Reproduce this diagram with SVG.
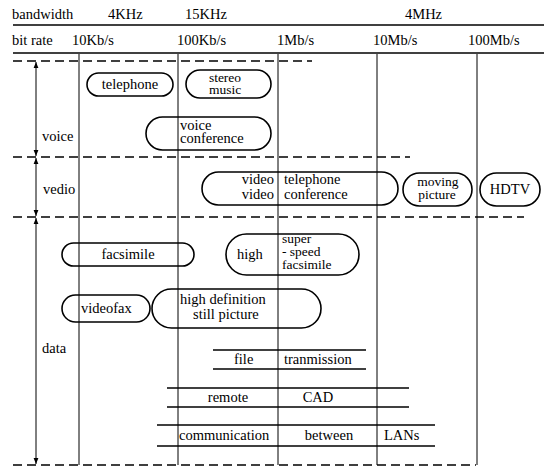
<svg xmlns="http://www.w3.org/2000/svg" width="544" height="469" viewBox="0 0 544 469" font-family="'Liberation Serif', 'DejaVu Serif', serif" font-size="14.5">
<defs>
<style>
text{font-family:'Liberation Serif','DejaVu Serif',serif;font-size:14.5px;fill:#000}
.sm{font-size:13.5px}
.pill{fill:none;stroke:#000;stroke-width:1.6}
.rule{stroke:#000;stroke-width:1.3;fill:none}
.grid{stroke:#000;stroke-width:1;fill:none}
.dash{stroke:#000;stroke-width:1.3;stroke-dasharray:9 5;fill:none}
.m{text-anchor:middle}
.e{text-anchor:end}
</style>
<marker id="ah" viewBox="0 0 10 10" refX="10" refY="5" markerWidth="6" markerHeight="6" orient="auto-start-reverse">
<path d="M0,1 L10,5 L0,9 z" fill="#000"/>
</marker>
</defs>
<rect width="544" height="469" fill="#fff"/>

<g id="header">
<text x="12" y="19">bandwidth</text>
<text x="108" y="19">4KHz</text>
<text x="185" y="19">15KHz</text>
<text x="405" y="19">4MHz</text>
<line class="rule" x1="13" y1="25" x2="544" y2="25"/>
<text x="12" y="45">bit  rate</text>
<text x="72" y="45">10Kb/s</text>
<text x="177" y="45">100Kb/s</text>
<text x="277" y="45">1Mb/s</text>
<text x="373" y="45">10Mb/s</text>
<text x="468" y="45">100Mb/s</text>
<line class="rule" x1="13" y1="53" x2="544" y2="53"/>
</g>

<g id="grid">
<line class="grid" x1="79" y1="54" x2="79" y2="465"/>
<line class="grid" x1="178" y1="54" x2="178" y2="465"/>
<line class="grid" x1="278" y1="54" x2="278" y2="465"/>
<line class="grid" x1="377" y1="54" x2="377" y2="465"/>
<line class="grid" x1="477" y1="54" x2="477" y2="465"/>
<line class="dash" x1="13" y1="61" x2="312" y2="61"/>
<line class="dash" x1="13" y1="157" x2="410" y2="157"/>
<line class="dash" x1="13" y1="217" x2="524" y2="217"/>
<line class="dash" x1="13" y1="465" x2="476" y2="465"/>
</g>

<g id="categories">
<line class="grid" x1="36" y1="62" x2="36" y2="156" marker-start="url(#ah)" marker-end="url(#ah)"/>
<line class="grid" x1="36" y1="158" x2="36" y2="216" marker-start="url(#ah)" marker-end="url(#ah)"/>
<line class="grid" x1="36" y1="218" x2="36" y2="464" marker-start="url(#ah)" marker-end="url(#ah)"/>
<text x="42" y="141">voice</text>
<text x="43" y="194">vedio</text>
<text x="42" y="353">data</text>
</g>

<g id="telephone">
<rect class="pill" x="87" y="73" width="86" height="23" rx="11.5"/>
<text class="m" x="130" y="89">telephone</text>
</g>
<g id="stereo-music">
<rect class="pill" x="186" y="70" width="85" height="28" rx="14"/>
<text class="m sm" x="225" y="82">stereo</text>
<text class="m sm" x="225" y="94">music</text>
</g>
<g id="voice-conference">
<rect class="pill" x="146" y="117" width="125" height="33" rx="16.5"/>
<text x="180" y="130">voice</text>
<text x="180" y="143">conference</text>
</g>
<g id="video-conference">
<rect class="pill" x="202" y="172" width="196" height="33" rx="16.5"/>
<text class="e" x="274" y="184">video</text>
<text x="284" y="184">telephone</text>
<text class="e" x="274" y="199">video</text>
<text x="284" y="199">conference</text>
</g>
<g id="moving-picture">
<rect class="pill" x="403" y="173" width="69" height="33" rx="16.5"/>
<text class="m sm" x="438" y="186">moving</text>
<text class="m sm" x="437" y="199">picture</text>
</g>
<g id="hdtv">
<rect class="pill" x="480" y="173" width="60" height="33" rx="16.5"/>
<text class="m" x="510" y="194">HDTV</text>
</g>
<g id="facsimile">
<rect class="pill" x="62" y="243" width="132" height="23" rx="11.5"/>
<text class="m" x="128" y="259">facsimile</text>
</g>
<g id="super-speed-facsimile">
<rect class="pill" x="226" y="234" width="133" height="41" rx="20.5"/>
<text x="237" y="259">high</text>
<text class="sm" x="282" y="243">super</text>
<text class="sm" x="282" y="256">-   speed</text>
<text class="sm" x="282" y="269">facsimile</text>
</g>
<g id="videofax">
<rect class="pill" x="62" y="295" width="88" height="27" rx="13.5"/>
<text x="81" y="313">videofax</text>
</g>
<g id="still-picture">
<rect class="pill" x="152" y="289" width="169" height="39" rx="19.5"/>
<text x="180" y="304">high  definition</text>
<text x="193" y="319">still  picture</text>
</g>

<g id="file-transmission">
<line class="rule" x1="213" y1="350" x2="366" y2="350"/>
<line class="rule" x1="213" y1="369" x2="366" y2="369"/>
<text x="234" y="364">file</text>
<text x="284" y="364">tranmission</text>
</g>
<g id="remote-cad">
<line class="rule" x1="167" y1="388" x2="409" y2="388"/>
<line class="rule" x1="167" y1="407" x2="409" y2="407"/>
<text class="m" x="228" y="402">remote</text>
<text class="m" x="318" y="402">CAD</text>
</g>
<g id="lans">
<line class="rule" x1="157" y1="425" x2="435" y2="425"/>
<line class="rule" x1="157" y1="446" x2="435" y2="446"/>
<text x="179" y="440">communication</text>
<text class="m" x="329" y="440">between</text>
<text x="384" y="440">LANs</text>
</g>
</svg>
